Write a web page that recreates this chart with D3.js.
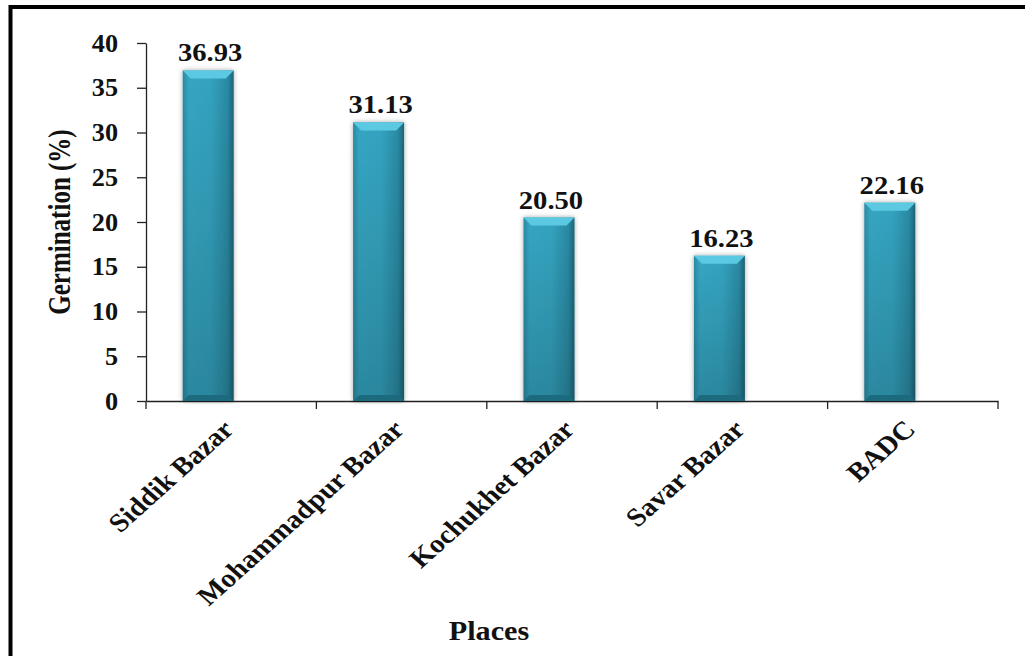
<!DOCTYPE html>
<html>
<head>
<meta charset="utf-8">
<script src="https://cdn.jsdelivr.net/npm/d3@7"></script>
<style>
  body { margin: 0; background: #fff; }
  text { font-family: "Liberation Serif", "Times New Roman", serif; font-weight: bold; fill: #111; }
  .axis path, .axis line { stroke: #222; stroke-width: 1.3; }
</style>
</head>
<body>
<div id="chart"></div>
<script>
// Data
var places = ["Siddik Bazar", "Mohammadpur Bazar", "Kochukhet Bazar", "Savar Bazar", "BADC"];
var germination = [36.93, 31.13, 20.50, 16.23, 22.16];
var labels = ["36.93", "31.13", "20.50", "16.23", "22.16"];
var yTicks = [0, 5, 10, 15, 20, 25, 30, 35, 40];

var width = 1025, height = 656;
var mLeft = 146, mRight = 998, mTop = 43, mBottom = 401;
var stretch = 1.12; // text in the source is a little wide

var svg = d3.select("#chart").append("svg")
    .attr("width", width)
    .attr("height", height);

// outer frame
svg.append("rect")
    .attr("x", 10.5).attr("y", 7)
    .attr("width", 1040).attr("height", 700)
    .attr("fill", "none")
    .attr("stroke", "#000")
    .attr("stroke-width", 4);

var defs = svg.append("defs");
var gH = defs.append("linearGradient").attr("id", "barH")
    .attr("x1", 0).attr("x2", 1).attr("y1", 0).attr("y2", 0);
gH.append("stop").attr("offset", "0%").attr("stop-color", "#2a8aa3");
gH.append("stop").attr("offset", "12%").attr("stop-color", "#35a6c3");
gH.append("stop").attr("offset", "55%").attr("stop-color", "#34a3bf");
gH.append("stop").attr("offset", "88%").attr("stop-color", "#2a8aa3");
gH.append("stop").attr("offset", "100%").attr("stop-color", "#1d6477");

var gV = defs.append("linearGradient").attr("id", "barV")
    .attr("x1", 0).attr("x2", 0).attr("y1", 0).attr("y2", 1);
gV.append("stop").attr("offset", "0%").attr("stop-color", "#000").attr("stop-opacity", 0);
gV.append("stop").attr("offset", "100%").attr("stop-color", "#000").attr("stop-opacity", 0.18);

var shadow = defs.append("filter").attr("id", "shadow")
    .attr("x", "-30%").attr("y", "-10%").attr("width", "160%").attr("height", "120%");
shadow.append("feGaussianBlur").attr("in", "SourceAlpha").attr("stdDeviation", 2.5).attr("result", "b");
shadow.append("feComponentTransfer").attr("in", "b").attr("result", "o")
    .append("feFuncA").attr("type", "linear").attr("slope", 0.35);
var merge = shadow.append("feMerge");
merge.append("feMergeNode").attr("in", "o");
merge.append("feMergeNode").attr("in", "SourceGraphic");

var x = d3.scaleBand()
    .domain(places)
    .range([mLeft, mRight]);

var y = d3.scaleLinear()
    .domain([0, 40])
    .range([mBottom, mTop]);

var barW = 51;
var shift = -23; // bars sit left of the category centre
function bx(p) { return x(p) + x.bandwidth() / 2 + shift - barW / 2; }

// axes
var xAxis = svg.append("g")
    .attr("class", "axis")
    .attr("transform", "translate(0," + mBottom + ")")
    .call(d3.axisBottom(x).tickSize(0).tickFormat(""));
xAxis.selectAll(".tick").remove();
xAxis.selectAll(".sep")
    .data(d3.range(places.length + 1))
    .enter().append("line")
    .attr("x1", function(i) { return mLeft + i * x.bandwidth(); })
    .attr("x2", function(i) { return mLeft + i * x.bandwidth(); })
    .attr("y1", 0).attr("y2", 8)
    .attr("stroke", "#222").attr("stroke-width", 1.3);

xAxis.selectAll(".xl")
    .data(places)
    .enter().append("text")
    .attr("text-anchor", "end")
    .attr("font-size", "26px")
    .attr("transform", function(d) {
      return "translate(" + (x(d) + x.bandwidth() / 2 + 4) + ",30) scale(" + stretch + ",1) rotate(-45)";
    })
    .text(function(d) { return d; });

var yAxis = svg.append("g")
    .attr("class", "axis")
    .attr("transform", "translate(" + mLeft + ",0)")
    .call(d3.axisLeft(y).tickValues(yTicks).tickSize(9).tickSizeOuter(0).tickPadding(0));
yAxis.selectAll("text")
    .attr("x", null)
    .attr("font-size", "25px")
    .attr("transform", "translate(-28,0) scale(1.05,1)")
    .style("font-family", "'Liberation Serif', serif")
    .style("font-weight", "bold")
    .attr("fill", "#111");

// bars
var bars = svg.selectAll(".bar")
    .data(places)
    .enter().append("g")
    .attr("class", "bar")
    .attr("filter", "url(#shadow)");

bars.append("rect")
    .attr("x", function(d) { return bx(d); })
    .attr("y", function(d, i) { return y(germination[i]); })
    .attr("width", barW)
    .attr("height", function(d, i) { return y(0) - y(germination[i]); })
    .attr("fill", "url(#barH)");

bars.append("rect")
    .attr("x", function(d) { return bx(d); })
    .attr("y", function(d, i) { return y(germination[i]); })
    .attr("width", barW)
    .attr("height", function(d, i) { return y(0) - y(germination[i]); })
    .attr("fill", "url(#barV)");

// top bevel
bars.append("path")
    .attr("d", function(d, i) {
      var x0 = bx(d), y0 = y(germination[i]);
      return "M" + x0 + "," + y0 + "L" + (x0 + barW) + "," + y0 +
        "L" + (x0 + barW - 8) + "," + (y0 + 8) + "L" + (x0 + 8) + "," + (y0 + 8) + "Z";
    })
    .attr("fill", "#5cc9e2");

// bottom bevel
bars.append("path")
    .attr("d", function(d) {
      var x0 = bx(d), y0 = y(0);
      return "M" + x0 + "," + y0 + "L" + (x0 + barW) + "," + y0 +
        "L" + (x0 + barW - 6) + "," + (y0 - 6) + "L" + (x0 + 6) + "," + (y0 - 6) + "Z";
    })
    .attr("fill", "#1f6a7e");

// value labels
svg.selectAll(".val")
    .data(places)
    .enter().append("text")
    .attr("class", "val")
    .attr("text-anchor", "middle")
    .attr("font-size", "26px")
    .attr("transform", function(d, i) {
      return "translate(" + (bx(d) + barW / 2 + 2) + "," + (y(germination[i]) - 9) + ") scale(1.1,1)";
    })
    .text(function(d, i) { return labels[i]; });

// axis titles
svg.append("text")
    .attr("text-anchor", "middle")
    .attr("font-size", "25px")
    .attr("transform", "translate(70," + ((mTop + mBottom) / 2) + ") rotate(-90) scale(1,1.3)")
    .text("Germination (%)");

svg.append("text")
    .attr("text-anchor", "middle")
    .attr("font-size", "27px")
    .attr("transform", "translate(489,640) scale(" + stretch + ",1)")
    .text("Places");
</script>
</body>
</html>
